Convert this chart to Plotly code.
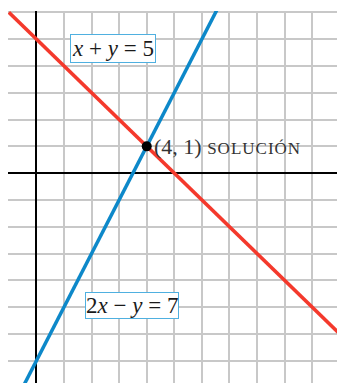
import plotly.graph_objects as go

# lines: a*x + b*y = c
x_vals = [-1, 11]
red_y = [5 - x for x in x_vals]          # x + y = 5
blue_x = [-0.6, 6.6]
blue_y = [2 * x - 7 for x in blue_x]     # 2x - y = 7
sol_x = [4]
sol_y = [1]

red = "#f4392c"
blue = "#0d88c9"
serif = "Liberation Serif, Times New Roman, serif"

fig = go.Figure()
fig.add_trace(go.Scatter(x=blue_x, y=blue_y, mode="lines",
                         line=dict(color=blue, width=3.5), hoverinfo="skip"))
fig.add_trace(go.Scatter(x=x_vals, y=red_y, mode="lines",
                         line=dict(color=red, width=3.5), hoverinfo="skip"))
fig.add_trace(go.Scatter(x=sol_x, y=sol_y, mode="markers",
                         marker=dict(color="black", size=10), hoverinfo="skip"))

fig.add_annotation(x=2.77, y=4.65, text="<i>x</i> + <i>y</i> = 5", showarrow=False,
                   font=dict(family=serif, size=23, color="#1a1a1a"),
                   bgcolor="white", bordercolor="#4fb0e0", borderwidth=1, borderpad=1)
fig.add_annotation(x=3.46, y=-4.93, text="2<i>x</i> − <i>y</i> = 7", showarrow=False,
                   font=dict(family=serif, size=23, color="#1a1a1a"),
                   bgcolor="white", bordercolor="#4fb0e0", borderwidth=1, borderpad=0)
fig.add_annotation(x=4, y=1, xanchor="left", xshift=5, showarrow=False,
                   text="(4, 1) <span style='font-size:17px;letter-spacing:1px'>SOLUCIÓN</span>",
                   font=dict(family=serif, size=22, color="#333"))

fig.update_xaxes(range=[-1.03, 10.9], dtick=1, tick0=0, showticklabels=False,
                 showgrid=True, gridcolor="#c8c8c8", gridwidth=1.5,
                 zeroline=True, zerolinecolor="black", zerolinewidth=2, showline=False)
fig.update_yaxes(range=[-7.83, 6.05], dtick=1, tick0=0, showticklabels=False,
                 showgrid=True, gridcolor="#c8c8c8", gridwidth=1.5,
                 zeroline=True, zerolinecolor="black", zerolinewidth=2, showline=False)
fig.update_layout(width=337, height=383, showlegend=False,
                  margin=dict(l=8, r=0, t=11, b=0),
                  plot_bgcolor="white", paper_bgcolor="white")
# page body has a default margin; drop it so the chart fills the window
fig.write_html("out.html", config={"displayModeBar": False},
               post_script="document.body.style.margin='0';document.body.style.overflow='hidden';")
